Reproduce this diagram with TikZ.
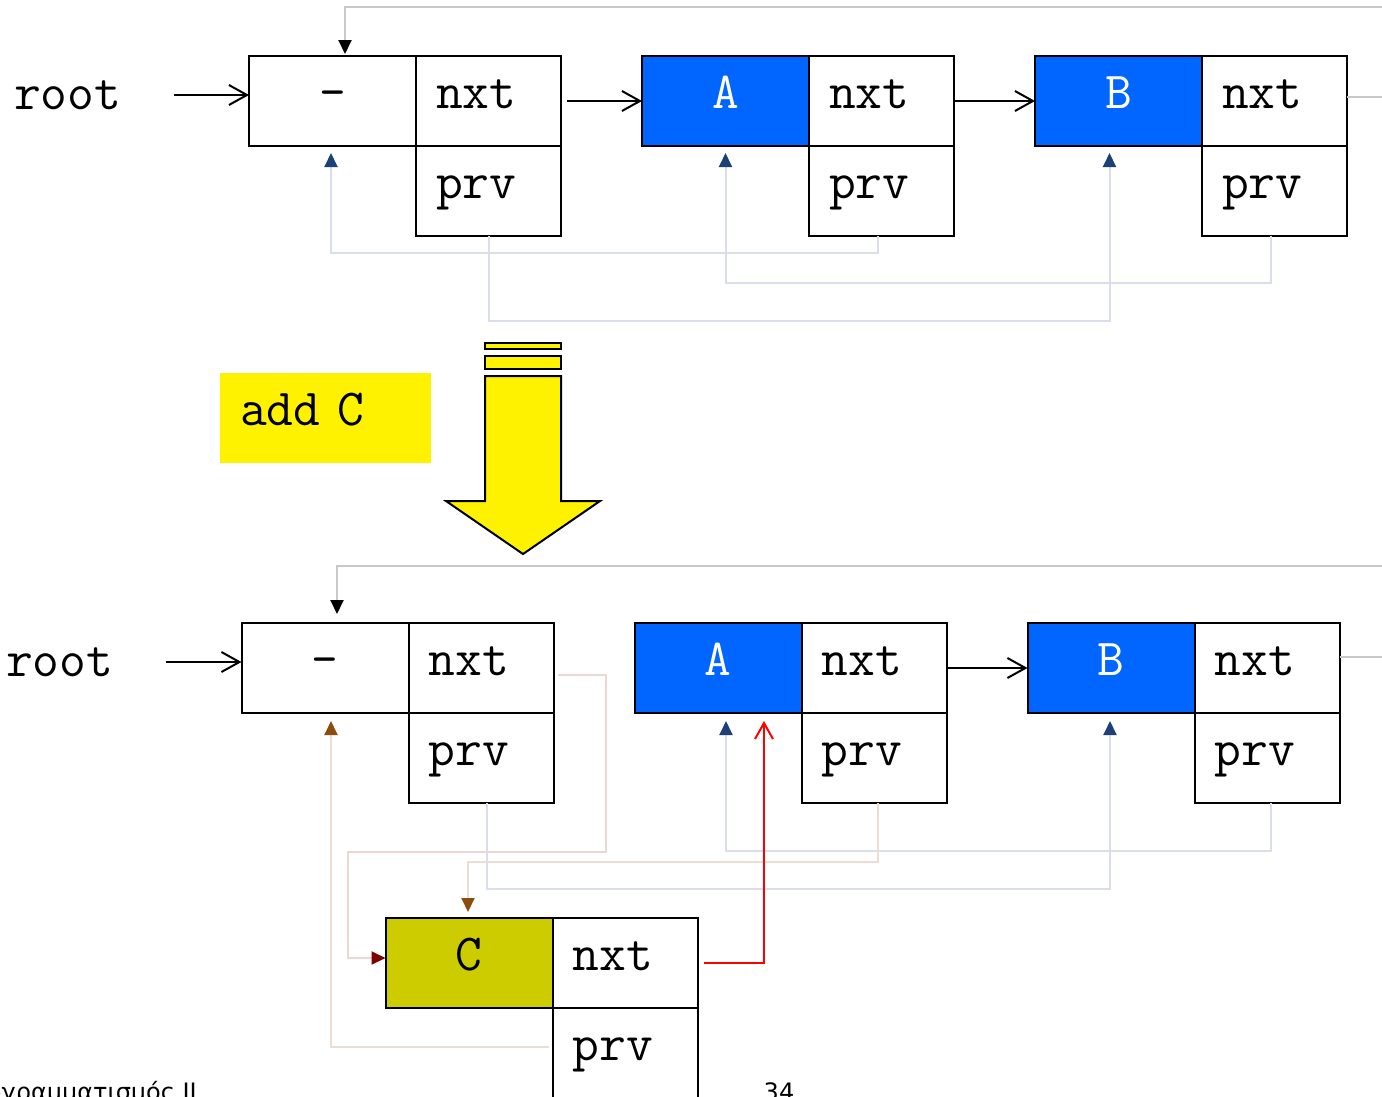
\documentclass[tikz,border=0pt]{standalone}
\usepackage{fontspec}
\usepackage{xcolor}
\usepackage{tikz}
\usetikzlibrary{arrows.meta, positioning}

\newfontfamily\footfont{DejaVu Sans}

\definecolor{cellblue}{RGB}{0,102,255}
\definecolor{cellolive}{RGB}{204,204,0}
\definecolor{wrapgray}{RGB}{200,200,200}
\definecolor{prvgray}{RGB}{218,222,234}
\definecolor{pinkline}{RGB}{236,214,214}
\definecolor{tanline}{RGB}{236,222,210}
\definecolor{tipnavy}{RGB}{28,64,120}
\definecolor{tipbrown}{RGB}{140,76,12}
\definecolor{tipred}{RGB}{128,0,0}

\begin{document}
\begin{tikzpicture}[
    x=1pt, y=-1pt,
    node distance=81pt,
    every node/.style={
        font=\ttfamily\fontsize{52}{60}\selectfont
    },
    keycell/.style={
        draw,
        line width=2pt,
        outer sep=0pt,
        inner sep=0pt,
        minimum width=167pt,
        minimum height=90pt,
        text height=26pt,
        text depth=12pt
    },
    ptrcell/.style={
        draw,
        line width=2pt,
        outer sep=0pt,
        inner xsep=20pt,
        inner ysep=0pt,
        text width=105pt,
        align=left,
        minimum height=90pt,
        text height=26pt,
        text depth=12pt
    },
    link/.style={
        -{Straight Barb[length=18pt,width=20pt]},
        line width=2pt
    },
    wrapline/.style={
        draw=wrapgray,
        line width=2pt,
        -{Triangle[length=14pt,width=13pt,color=black]}
    },
    prvlink/.style={
        draw=prvgray,
        line width=2pt,
        -{Triangle[length=14pt,width=13pt,color=tipnavy]}
    },
    backlink/.style={
        draw=tanline,
        line width=2pt,
        -{Triangle[length=14pt,width=13pt,color=tipbrown]}
    },
    newlink/.style={
        draw=pinkline,
        line width=2pt,
        -{Triangle[length=14pt,width=13pt,color=tipred]}
    },
    redlink/.style={
        draw=red,
        line width=2pt,
        -{Straight Barb[length=16pt,width=18pt]}
    },
    footer/.style={
        font=\footfont\fontsize{24}{28}\selectfont,
        inner sep=0pt
    }
]

\useasboundingbox (0,0) rectangle (1382,1096);
\clip (0,0) rectangle (1382,1096);

% list before insertion
\node[anchor=west, inner sep=0pt] (root1) at (14,95) {root};

\node[keycell] (head1) at (332.5,101) {-};
\node[ptrcell, right=0pt of head1] (head1nxt) {nxt};
\node[ptrcell, below=0pt of head1nxt] (head1prv) {prv};

\node[keycell, fill=cellblue, text=white, right=of head1nxt] (a1) {A};
\node[ptrcell, right=0pt of a1] (a1nxt) {nxt};
\node[ptrcell, below=0pt of a1nxt] (a1prv) {prv};

\node[keycell, fill=cellblue, text=white, right=of a1nxt] (b1) {B};
\node[ptrcell, right=0pt of b1] (b1nxt) {nxt};
\node[ptrcell, below=0pt of b1nxt] (b1prv) {prv};

\coordinate (wrap1) at (1400,7);

\draw[link, shorten <=52pt] (root1.east) -- (root1.east -| head1.west);
\draw[link] ([xshift=6pt]head1nxt.east) -- (a1.west);
\draw[link] (a1nxt.east) -- (b1.west);
\draw[wrapline] ([yshift=4pt]b1nxt.east) -| (wrap1)
    -| ([xshift=12.5pt,yshift=2pt]head1.north);

\draw[prvlink] ([xshift=-3.5pt]a1prv.south) -- ++(0,17)
    -| ([xshift=-1.5pt,yshift=-7pt]head1.south);
\draw[prvlink] ([xshift=-3.5pt]b1prv.south) -- ++(0,47)
    -| ([yshift=-7pt]a1.south);
\draw[prvlink] (head1prv.south) -- ++(0,85)
    -| ([xshift=-9pt,yshift=-7pt]b1.south);

% the add step
\node[fill=yellow, inner xsep=20pt, inner ysep=0pt, text width=171pt,
    align=left, minimum height=90pt, text height=26pt, text depth=12pt]
    (addc) at (325.5,418) {add C};

\draw[line width=2pt, fill=yellow] (485,343) rectangle (561,349);
\draw[line width=2pt, fill=yellow] (485,356) rectangle (561,369);
\draw[line width=2pt, fill=yellow] (485,376) -- (561,376) -- (561,501)
    -- (600,501) -- (523,554) -- (446,501) -- (485,501) -- cycle;

% list after insertion
\node[anchor=west, inner sep=0pt] (root2) at (6,662) {root};

\node[keycell] (head2) at (325,668) {-};
\node[ptrcell, right=0pt of head2] (head2nxt) {nxt};
\node[ptrcell, below=0pt of head2nxt] (head2prv) {prv};

\node[keycell, fill=cellblue, text=white, right=of head2nxt] (a2) {A};
\node[ptrcell, right=0pt of a2] (a2nxt) {nxt};
\node[ptrcell, below=0pt of a2nxt] (a2prv) {prv};

\node[keycell, fill=cellblue, text=white, right=of a2nxt] (b2) {B};
\node[ptrcell, right=0pt of b2] (b2nxt) {nxt};
\node[ptrcell, below=0pt of b2nxt] (b2prv) {prv};

\node[keycell, fill=cellolive] (c2) at (469,963) {C};
\node[ptrcell, right=0pt of c2] (c2nxt) {nxt};
\node[ptrcell, below=0pt of c2nxt] (c2prv) {prv};

\coordinate (wrap2) at (1400,566);

\draw[link, shorten <=52pt] (root2.east) -- (root2.east -| head2.west);
\draw[link] (a2nxt.east) -- (b2.west);
\draw[wrapline] ([yshift=11pt]b2nxt.east) -| (wrap2)
    -| ([xshift=12pt,yshift=9pt]head2.north);

\draw[prvlink] ([xshift=4pt]b2prv.south) -- ++(0,48)
    -| ([xshift=8pt,yshift=-8pt]a2.south);
\draw[prvlink] ([xshift=6pt]head2prv.south) -- ++(0,86)
    -| ([xshift=-1pt,yshift=-8pt]b2.south);

\draw[backlink] ([xshift=4pt]a2prv.south) -- ++(0,59)
    -| ([xshift=-1pt,yshift=6pt]c2.north);
\draw[backlink] ([xshift=-4pt,yshift=6pt]c2prv.west)
    -| ([xshift=6pt,yshift=-8pt]head2.south);
\draw[newlink] ([xshift=4pt,yshift=-7pt]head2nxt.east) -- ++(48,0) -- ++(0,177)
    -| ([xshift=-38pt,yshift=5pt]c2.west) -- ([yshift=5pt]c2.west);
\draw[redlink] ([xshift=6pt]c2nxt.east) -| ([xshift=46pt,yshift=-8pt]a2.south);

% page footer
\node[footer, anchor=base east] (course) at (197,1100) {Προγραμματισμός II};
\node[footer, anchor=base] (page) at (779,1100) {34};

\end{tikzpicture}
\end{document}
